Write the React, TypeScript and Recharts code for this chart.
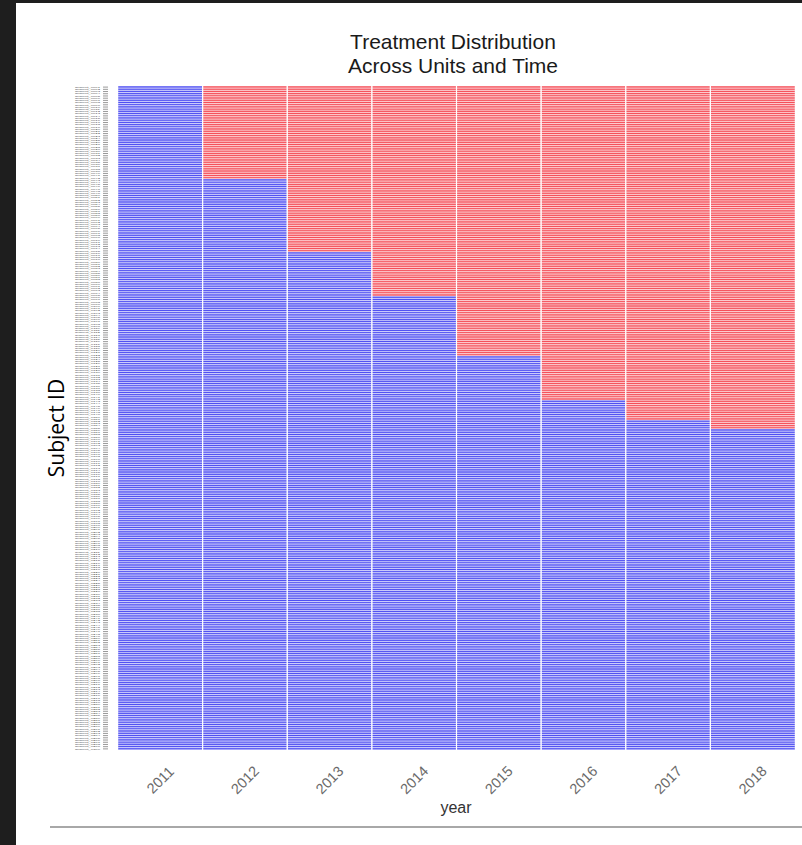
import React from "react";
import { BarChart, Bar, Cell, XAxis, YAxis, ReferenceLine } from "recharts";

// ---- data ----
const years = [2011, 2012, 2013, 2014, 2015, 2016, 2017, 2018];
// first treated year of each cohort (null = never treated), top to bottom
const cohortStart: (number | null)[] = [2012, 2013, 2014, 2015, 2016, 2017, 2018, null];
// number of subjects in each cohort
const cohortSize = [42, 33, 20, 27, 20, 9, 4, 145];
const xTicks = [0.5, 1.5, 2.5, 3.5, 4.5, 5.5, 6.5, 7.5];

const BLUE = "#4f4ff2";
const RED = "#f54e58";

type Row = { id: string; treated: boolean[]; [k: string]: any };
const rows: Row[] = [];
let n = 1;
cohortStart.forEach((start, c) => {
  for (let k = 0; k < cohortSize[c]; k++) {
    const r: Row = {
      id: `subject_${String(n).padStart(4, "0")}`,
      treated: years.map((y) => start !== null && y >= start),
    };
    years.forEach((_, j) => (r[`c${j}`] = 1));
    rows.push(r);
    n++;
  }
});

const YTick = (props: any) => {
  const { y, payload } = props;
  return (
    <g>
      <text
        x={75}
        y={y}
        dy={0.7}
        textAnchor="start"
        fontSize={1.8}
        textLength={25}
        lengthAdjust="spacingAndGlyphs"
        fill="#555555"
        fontFamily="Liberation Sans, Arial, sans-serif"
      >
        {payload.value}
      </text>
      <line x1={103} x2={108} y1={y} y2={y} stroke="#999999" strokeWidth={1} />
    </g>
  );
};

const XTick = (props: any) => {
  const { x, y, payload } = props;
  const label = years[Math.floor(payload.value)];
  const cy = y + 22;
  return (
    <text
      x={x}
      y={cy}
      dy={5}
      textAnchor="middle"
      transform={`rotate(-45, ${x}, ${cy})`}
      fontSize={14.5}
      fill="#6a6a6a"
      fontFamily="Liberation Sans, Arial, sans-serif"
    >
      {label}
    </text>
  );
};

export default function App() {
  return (
    <div style={{ position: "absolute", left: 0, top: 0, width: 802, height: 845, background: "#fff", overflow: "hidden" }}>
      <div style={{ position: "absolute", left: 0, top: 0, width: 16, height: 845, background: "#1e1e1e" }} />
      <div style={{ position: "absolute", left: 0, top: 0, width: 802, height: 3, background: "#1e1e1e" }} />
      <div style={{ position: "absolute", left: 50, top: 826, width: 752, height: 2, background: "#a8a8a8" }} />
      <div style={{ position: "absolute", left: 0, top: 0 }}>
        <BarChart
          width={802}
          height={845}
          data={rows}
          layout="vertical"
          barCategoryGap={0}
          barGap={0}
          margin={{ top: 86, right: 7, bottom: 35, left: 68 }}
        >
          <XAxis
            type="number"
            domain={[0, 8]}
            ticks={xTicks}
            tick={<XTick />}
            axisLine={false}
            tickLine={false}
            height={60}
            interval={0}
          />
          <YAxis
            type="category"
            dataKey="id"
            width={50}
            interval={0}
            tick={<YTick />}
            axisLine={false}
            tickLine={false}
          />
          {years.map((yr, j) => (
            <Bar key={yr} dataKey={`c${j}`} stackId="s" isAnimationActive={false} stroke="#ffffff" strokeWidth={0.45}>
              {rows.map((r, i) => (
                <Cell key={i} fill={r.treated[j] ? RED : BLUE} />
              ))}
            </Bar>
          ))}
          {[1, 2, 3, 4, 5, 6, 7].map((v) => (
            <ReferenceLine key={v} x={v} stroke="#ffffff" strokeWidth={1.2} ifOverflow="visible" />
          ))}
        </BarChart>
      </div>
      <div
        style={{
          position: "absolute",
          left: 250,
          width: 406,
          top: 30,
          textAlign: "center",
          fontFamily: "Liberation Sans, Arial, sans-serif",
          fontSize: 21,
          lineHeight: "24px",
          color: "#1a1a1a",
        }}
      >
        Treatment Distribution
        <br />
        Across Units and Time
      </div>
      <div
        style={{
          position: "absolute",
          left: 56,
          top: 428,
          transform: "translate(-50%, -50%) rotate(-90deg)",
          whiteSpace: "nowrap",
          fontFamily: "Open Sans, Noto Sans, sans-serif",
          fontSize: 21,
          color: "#000",
        }}
      >
        Subject ID
      </div>
      <div
        style={{
          position: "absolute",
          left: 456,
          top: 808,
          transform: "translate(-50%, -50%)",
          fontFamily: "Liberation Sans, Arial, sans-serif",
          fontSize: 16,
          color: "#333",
        }}
      >
        year
      </div>
    </div>
  );
}
